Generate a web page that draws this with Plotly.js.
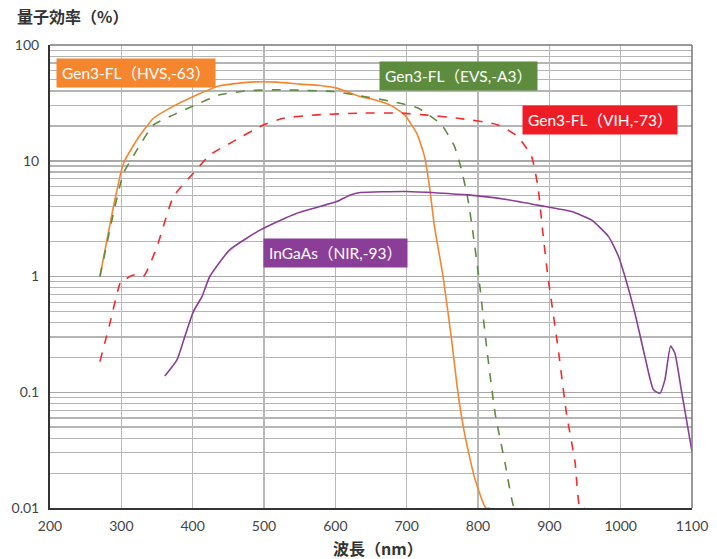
<!DOCTYPE html>
<html>
<head>
<meta charset="utf-8">
<script src="https://cdn.plot.ly/plotly-3.0.1.min.js"></script>
<style>html,body{margin:0;padding:0;background:#fff;}#chart{width:717px;height:559px;}</style>
</head>
<body>
<div id="chart"></div>
<script>
// Wavelength (nm) and quantum efficiency (%)
const hvsWl  = [270, 291, 303, 322, 345, 368, 401, 438, 480, 518, 551, 579, 602, 635, 655, 679, 697, 714, 725, 732, 739, 751, 763, 772, 782, 796, 811, 817];
const hvsQe  = [1.0, 4.6, 9.5, 15.2, 23.3, 28.5, 35.9, 44.4, 47.8, 47.8, 45.9, 44.7, 42.4, 35.9, 33.6, 29.8, 24.9, 17.3, 10.9, 5.98, 2.70, 1.0, 0.283, 0.098, 0.0413, 0.0175, 0.01, 0.01];

const evsWl  = [270, 291, 303, 322, 345, 373, 401, 438, 480, 527, 597, 635, 679, 716, 749, 767, 777, 786, 793, 801, 812, 824, 838, 851, 857];
const evsQe  = [1.0, 4.02, 7.8, 12.4, 20.4, 24.9, 29.8, 37.1, 40.4, 41.0, 39.6, 36.4, 32.5, 28.5, 20.4, 13.3, 8.3, 4.6, 2.37, 1.0, 0.248, 0.0658, 0.0243, 0.01, 0.01];

const vihWl  = [270, 284, 300, 305, 317, 331, 350, 373, 401, 424, 457, 499, 527, 574, 635, 693, 725, 772, 828, 856, 875, 884, 891, 898, 912, 924, 936, 943, 950];
const vihQe  = [0.184, 0.395, 0.935, 0.95, 1.03, 1.0, 1.81, 4.9, 7.8, 11.2, 14.7, 20.4, 23.3, 24.9, 25.8, 25.8, 24.9, 23.3, 20.4, 16.1, 10.9, 5.98, 2.37, 1.0, 0.248, 0.0658, 0.0251, 0.01, 0.01];

const nirWl  = [361, 378, 389, 401, 413, 424, 452, 495, 546, 602, 621, 635, 700, 786, 842, 894, 931, 959, 983, 997, 1006, 1020, 1034, 1046, 1055, 1062, 1070, 1076, 1085, 1100];
const nirQe  = [0.138, 0.190, 0.303, 0.498, 0.67, 1.0, 1.70, 2.53, 3.52, 4.44, 5.07, 5.31, 5.42, 5.07, 4.6, 4.02, 3.64, 3.08, 2.21, 1.49, 1.0, 0.482, 0.203, 0.105, 0.098, 0.128, 0.251, 0.217, 0.105, 0.0307];

const seriesNames = ['Gen3-FL（HVS,-63）', 'Gen3-FL（EVS,-A3）', 'Gen3-FL（VIH,-73）', 'InGaAs（NIR,-93）'];
const xTicks = [200, 300, 400, 500, 600, 700, 800, 900, 1000, 1100];
const yTicks = [0.01, 0.1, 1, 10, 100];
const yTickText = ['0.01', '0.1', '1', '10', '100'];

const colors = ['#F5862E', '#5E8C3F', '#EE1D25', '#8A3E98'];
const lineColors = ['#F5862E', '#5E8C3F', '#F52A2A', '#8A3E98'];
const dashes = ['solid', 'dash', 'dash', 'solid'];
const xs = [hvsWl, evsWl, vihWl, nirWl];
const ys = [hvsQe, evsQe, vihQe, nirQe];

const traces = xs.map((x, i) => ({
  x: x, y: ys[i], type: 'scatter', mode: 'lines', name: seriesNames[i],
  line: {color: lineColors[i], width: 1.6, dash: dashes[i], shape: 'spline', smoothing: 0.5},
  hoverinfo: 'x+y+name'
}));

const labelPos = [
  {x: 320.6, y: 1.755},
  {x: 773, y: 1.730},
  {x: 971, y: 1.349},
  {x: 600.4, y: 0.200}
];

const annotations = seriesNames.map((t, i) => ({
  x: labelPos[i].x, y: labelPos[i].y, xref: 'x', yref: 'y',
  text: t, showarrow: false, xanchor: 'center', yanchor: 'middle',
  bgcolor: colors[i], borderpad: 5,
  font: {family: 'Lato, "Noto Sans CJK JP", sans-serif', size: 15.5, color: '#ffffff'}
}));
annotations.push({
  x: -0.0545, y: 1.062, xref: 'paper', yref: 'paper', xanchor: 'left', yanchor: 'middle',
  text: '<b>量子効率（%）</b>', showarrow: false,
  font: {family: '"Noto Sans CJK JP", sans-serif', size: 16, color: '#333333'}
});
annotations.push({
  x: 0.511, y: -0.086, xref: 'paper', yref: 'paper', xanchor: 'center', yanchor: 'middle',
  text: '<b>波長（nm）</b>', showarrow: false,
  font: {family: '"Noto Sans CJK JP", sans-serif', size: 16, color: '#333333'}
});

const layout = {
  width: 717, height: 559,
  margin: {l: 50, r: 25, t: 45, b: 51},
  paper_bgcolor: '#ffffff', plot_bgcolor: '#ffffff',
  showlegend: false,
  font: {family: 'Lato, "Noto Sans", sans-serif', size: 13, color: '#444444'},
  xaxis: {
    range: [200, 1100], tickvals: xTicks, ticks: '', showgrid: true,
    gridcolor: '#b8b8b8', gridwidth: 1.5, zeroline: false,
    showline: true, linecolor: '#333333', linewidth: 2,
    tickfont: {size: 14, color: '#444444'}, ticklabelstandoff: 4
  },
  yaxis: {
    type: 'log', range: [-2, 2], tickvals: yTicks, ticktext: yTickText, ticks: '',
    showgrid: true, gridcolor: '#a8a8a8', gridwidth: 1.5, zeroline: false,
    showline: true, linecolor: '#333333', linewidth: 2,
    minor: {dtick: 'D1', showgrid: true, gridcolor: '#b5b5b5', gridwidth: 1.2, ticks: ''},
    tickfont: {size: 14, color: '#444444'}, ticklabelstandoff: 6
  },
  shapes: [
    {type: 'line', xref: 'paper', yref: 'paper', x0: 0, x1: 1, y0: 1, y1: 1, line: {color: '#777777', width: 1.5}},
    {type: 'line', xref: 'paper', yref: 'paper', x0: 1, x1: 1, y0: 0, y1: 1, line: {color: '#777777', width: 1.5}}
  ],
  annotations: annotations
};

Plotly.newPlot('chart', traces, layout, {displayModeBar: false, staticPlot: true});
</script>
</body>
</html>
